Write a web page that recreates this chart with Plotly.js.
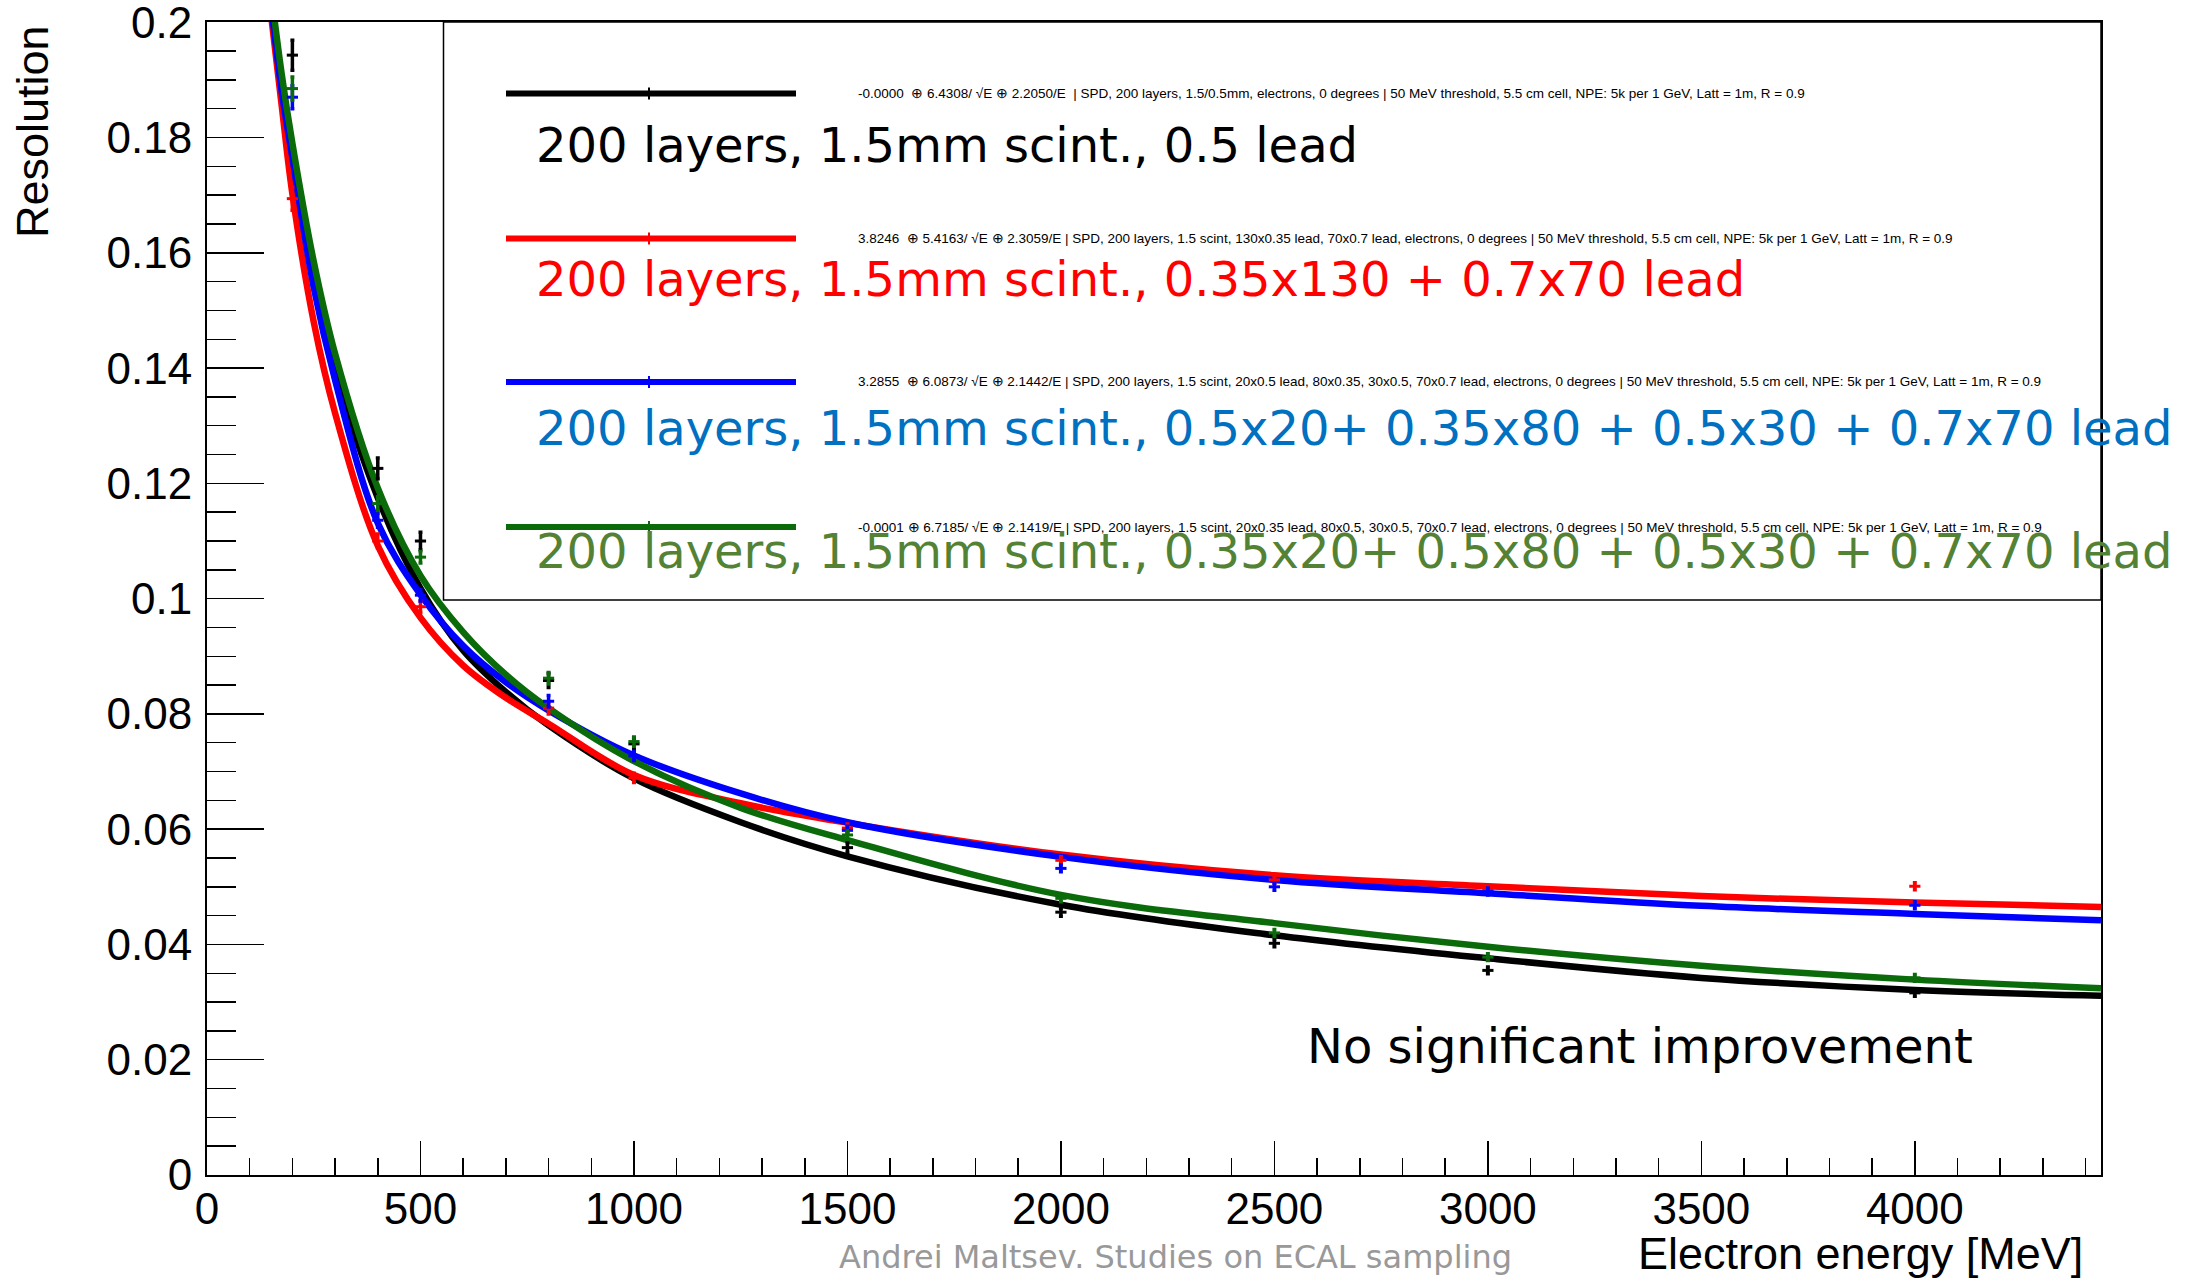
<!DOCTYPE html>
<html>
<head>
<meta charset="utf-8">
<script src="https://cdn.plot.ly/plotly-3.0.1.min.js"></script>
<style>html,body{margin:0;padding:0;background:#fff;}#chart{width:2187px;height:1279px;}</style>
</head>
<body>
<div id="chart"></div>
<script>
// ---- Fit curves ----
const fitEnergy = [150, 175, 200, 250, 300, 400, 500, 600, 700, 800, 1000, 1250, 1500, 2000, 2500, 3000, 3500, 4000, 4436];
const fitBlack  = [0.2042, 0.1895, 0.1780, 0.1568, 0.1400, 0.1175, 0.1018, 0.0910, 0.0838, 0.0780, 0.0688, 0.0612, 0.0553, 0.0469, 0.0416, 0.0376, 0.0342, 0.0321, 0.0311];
const fitRed    = [0.2013, 0.1855, 0.1702, 0.1480, 0.1322, 0.1092, 0.0967, 0.0884, 0.0828, 0.0783, 0.0694, 0.0645, 0.0611, 0.0556, 0.0520, 0.0501, 0.0484, 0.0473, 0.0465];
const fitBlue   = [0.2031, 0.1880, 0.1765, 0.1540, 0.1379, 0.1131, 0.1007, 0.0918, 0.0855, 0.0806, 0.0728, 0.0662, 0.0612, 0.0552, 0.0512, 0.0489, 0.0467, 0.0453, 0.0442];
const fitGreen  = [0.2053, 0.1910, 0.1790, 0.1585, 0.1425, 0.1192, 0.1040, 0.0942, 0.0868, 0.0810, 0.0718, 0.0637, 0.0581, 0.0486, 0.0437, 0.0396, 0.0363, 0.0339, 0.0324];

// ---- Measured points ----
const pointEnergy = [200, 400, 500, 800, 1000, 1500, 2000, 2500, 3000, 4000];
const ptBlack = [0.1943, 0.1226, 0.1100, 0.0858, 0.0748, 0.0568, 0.0456, 0.0402, 0.0355, 0.0316];
const ptRed   = [0.1694, 0.1100, 0.0986, 0.0810, 0.0689, 0.0602, 0.0546, 0.0512, 0.0496, 0.0501];
const ptBlue  = [0.1870, 0.1136, 0.1006, 0.0822, 0.0727, 0.0598, 0.0532, 0.0500, 0.0492, 0.0468];
const ptGreen = [0.1885, 0.1165, 0.1072, 0.0862, 0.0752, 0.0590, 0.0480, 0.0420, 0.0378, 0.0342];
const errBlack = [0.0026, 0.0018, 0.0015, 0.0012, 0.0010, 0.0008, 0.0007, 0.0006, 0.0006, 0.0006];
const errOther = [0.0020, 0.0012, 0.0010, 0.0010, 0.0008, 0.0007, 0.0006, 0.0006, 0.0006, 0.0006];

// ---- Labels ----
const legendNames = [
  "200 layers, 1.5mm scint., 0.5 lead",
  "200 layers, 1.5mm scint., 0.35x130 + 0.7x70 lead",
  "200 layers, 1.5mm scint., 0.5x20+ 0.35x80 + 0.5x30 + 0.7x70 lead",
  "200 layers, 1.5mm scint., 0.35x20+ 0.5x80 + 0.5x30 + 0.7x70 lead"
];
const fitLabels = [
  "-0.0000  \u2295 6.4308/ \u221AE \u2295 2.2050/E  | SPD, 200 layers, 1.5/0.5mm, electrons, 0 degrees | 50 MeV threshold, 5.5 cm cell, NPE: 5k per 1 GeV, Latt = 1m, R = 0.9",
  "3.8246  \u2295 5.4163/ \u221AE \u2295 2.3059/E | SPD, 200 layers, 1.5 scint, 130x0.35 lead, 70x0.7 lead, electrons, 0 degrees | 50 MeV threshold, 5.5 cm cell, NPE: 5k per 1 GeV, Latt = 1m, R = 0.9",
  "3.2855  \u2295 6.0873/ \u221AE \u2295 2.1442/E | SPD, 200 layers, 1.5 scint, 20x0.5 lead, 80x0.35, 30x0.5, 70x0.7 lead, electrons, 0 degrees | 50 MeV threshold, 5.5 cm cell, NPE: 5k per 1 GeV, Latt = 1m, R = 0.9",
  "-0.0001 \u2295 6.7185/ \u221AE \u2295 2.1419/E | SPD, 200 layers, 1.5 scint, 20x0.35 lead, 80x0.5, 30x0.5, 70x0.7 lead, electrons, 0 degrees | 50 MeV threshold, 5.5 cm cell, NPE: 5k per 1 GeV, Latt = 1m, R = 0.9"
];
const xTitle = "Electron energy [MeV]";
const yTitle = "Resolution";
const noteText = "No significant improvement";
const footerText = "Andrei Maltsev. Studies on ECAL sampling";

const lineColors = ["#000000", "#ff0000", "#0000ff", "#0b6b0b"];
const textColors = ["#000000", "#ff0000", "#0070c0", "#548235"];

const fits = [fitBlack, fitRed, fitBlue, fitGreen];
const pts = [ptBlack, ptRed, ptBlue, ptGreen];
const errs = [errBlack, errOther, errOther, errOther];

const traces = [];
for (let i = 0; i < 4; i++) {
  traces.push({
    type: "scatter", mode: "lines", x: fitEnergy, y: fits[i],
    line: {color: lineColors[i], width: 6.5, shape: "spline", smoothing: 1},
    hoverinfo: "skip", showlegend: false
  });
}
for (let i = 0; i < 4; i++) {
  traces.push({
    type: "scatter", mode: "markers", x: pointEnergy, y: pts[i],
    marker: {symbol: "line-ew", size: 8, color: lineColors[i], line: {color: lineColors[i], width: 3}},
    error_y: {type: "data", array: errs[i], visible: true, color: lineColors[i], thickness: 3.5, width: 2},
    showlegend: false
  });
}

// plot area in pixels: x 207..2101, y 22..1175
const L = 207, R = 2101, T = 22, B = 1175;
const px = v => (v - L) / (R - L);
const py = v => (B - v) / (B - T);

const shapes = [];
const annotations = [];
// legend box
shapes.push({type: "rect", xref: "paper", yref: "paper", x0: px(443.5), x1: 1, y0: py(600), y1: 1,
  line: {color: "#000", width: 1.5}, fillcolor: "rgba(0,0,0,0)"});
const legLineY = [93.5, 238.5, 382, 527];
const legTextY = [145, 279, 428, 551];
for (let i = 0; i < 4; i++) {
  shapes.push({type: "line", xref: "paper", yref: "paper", x0: px(506), x1: px(796), y0: py(legLineY[i]), y1: py(legLineY[i]),
    line: {color: lineColors[i], width: 6}});
  shapes.push({type: "line", xref: "paper", yref: "paper", x0: px(649), x1: px(649), y0: py(legLineY[i] - 6), y1: py(legLineY[i] + 6),
    line: {color: lineColors[i], width: 2}});
  annotations.push({xref: "paper", yref: "paper", x: px(856), y: py(legLineY[i]), xanchor: "left", yanchor: "middle",
    text: fitLabels[i], showarrow: false,
    font: {family: "Liberation Sans Narrow, Liberation Sans, Arial", size: 13.5, color: "#000"}});
  annotations.push({xref: "paper", yref: "paper", x: px(534), y: py(legTextY[i]), xanchor: "left", yanchor: "middle",
    text: legendNames[i], showarrow: false,
    font: {family: "DejaVu Sans", size: 48, color: textColors[i]}});
}
annotations.push({xref: "paper", yref: "paper", x: px(1305), y: py(1046), xanchor: "left", yanchor: "middle",
  text: noteText, showarrow: false, font: {family: "DejaVu Sans", size: 48, color: "#000"}});
annotations.push({xref: "paper", yref: "paper", x: px(1175), y: py(1257), xanchor: "center", yanchor: "middle",
  text: footerText, showarrow: false, font: {family: "DejaVu Sans", size: 32, color: "#999999"}});
annotations.push({xref: "paper", yref: "paper", x: px(2085), y: py(1253), xanchor: "right", yanchor: "middle",
  text: xTitle, showarrow: false, font: {family: "Liberation Sans, Arial", size: 45, color: "#000"}});
annotations.push({xref: "paper", yref: "paper", x: px(33), y: py(132), xanchor: "center", yanchor: "middle",
  text: yTitle, textangle: -90, showarrow: false, font: {family: "Liberation Sans, Arial", size: 45, color: "#000"}});

const tickFont = {family: "Liberation Sans, Arial", size: 44, color: "#000"};
const layout = {
  width: 2187, height: 1279,
  margin: {l: L, r: 2187 - R, t: T, b: 1279 - B, pad: 0},
  paper_bgcolor: "#ffffff", plot_bgcolor: "#ffffff",
  showlegend: false,
  xaxis: {
    range: [0, 4436], tick0: 0, dtick: 500, ticks: "inside", ticklen: 34, tickwidth: 1.5, tickcolor: "#000",
    showline: true, linecolor: "#000", linewidth: 2, mirror: true, showgrid: false, zeroline: false,
    tickfont: tickFont, ticklabelstandoff: -6, ticklabeloverflow: "allow",
    minor: {dtick: 100, tick0: 0, ticks: "inside", ticklen: 17, tickwidth: 1.5, tickcolor: "#000", showgrid: false}
  },
  yaxis: {
    range: [0, 0.20005], tick0: 0, dtick: 0.02, ticks: "inside", ticklen: 57, tickwidth: 1.5, tickcolor: "#000",
    showline: true, linecolor: "#000", linewidth: 2, mirror: true, showgrid: false, zeroline: false,
    tickfont: tickFont, ticklabelstandoff: 4, ticklabeloverflow: "allow",
    minor: {dtick: 0.005, tick0: 0, ticks: "inside", ticklen: 29, tickwidth: 1.5, tickcolor: "#000", showgrid: false}
  },
  shapes: shapes,
  annotations: annotations
};

Plotly.newPlot("chart", traces, layout, {staticPlot: true, displayModeBar: false});
</script>
</body>
</html>
